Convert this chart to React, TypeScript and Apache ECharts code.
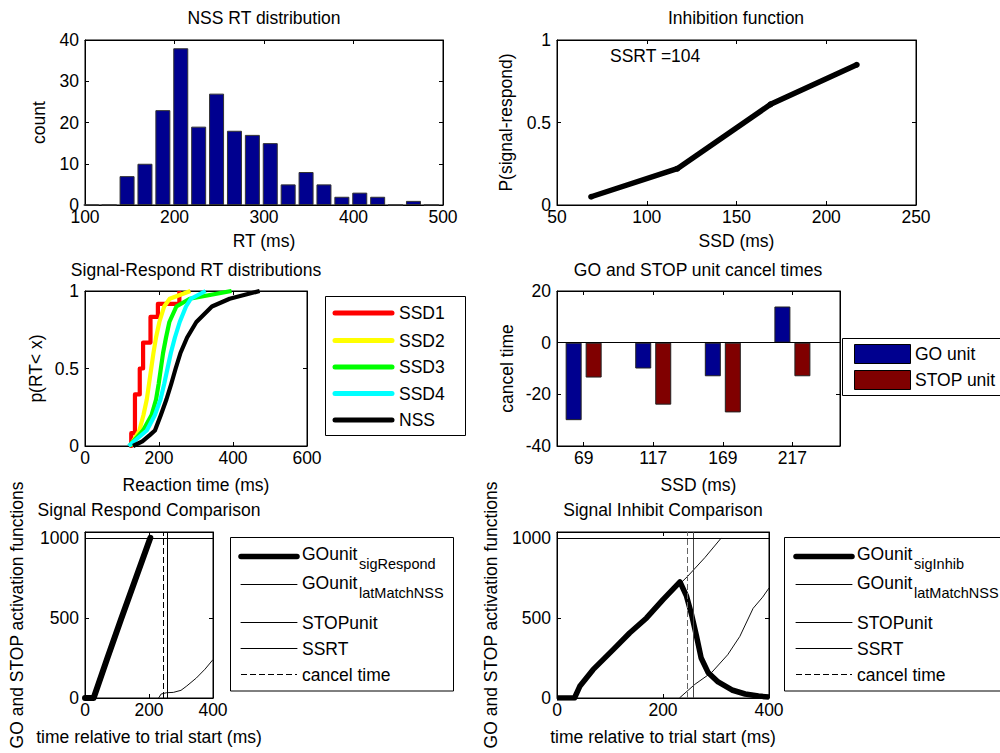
import React, { useEffect, useRef } from 'react';
import * as echarts from 'echarts';

const FONT = '"Liberation Sans", Arial, Helvetica, sans-serif';
const FS = 17.5;
const SUB_FS = 14.5;

// ---------- Panel 1: NSS RT distribution ----------
const rtBinCenters = [107, 127, 147, 167, 187, 207, 227, 247, 267, 287, 307, 327, 347, 367, 387, 407, 427, 447, 467, 487];
const rtCounts = [0, 0, 7, 10, 23, 38, 19, 27, 18, 17, 15, 5, 8, 5, 2, 3, 2, 0, 1, 0];

// ---------- Panel 2: Inhibition function ----------
const ssdValues = [69, 117, 169, 217];
const pSignalRespond = [0.05, 0.22, 0.61, 0.85];
const ssrtText = 'SSRT =104';

// ---------- Panel 3: Signal-Respond RT distributions (RT ms, cumulative p) ----------
const ssd1Cdf = [[120, 0], [125, 0.083], [135, 0.333], [148, 0.5], [157, 0.667], [177, 0.833], [197, 0.917], [255, 1]];
const ssd2Cdf = [[122, 0], [147, 0.1], [158, 0.2], [167, 0.3], [173, 0.4], [179, 0.5], [185, 0.6], [192, 0.7], [201, 0.8], [214, 0.9], [229, 0.95], [285, 1]];
const ssd3Cdf = [[120, 0], [157, 0.1], [180, 0.2], [192, 0.3], [199, 0.4], [205, 0.5], [211, 0.6], [219, 0.7], [228, 0.8], [247, 0.9], [283, 0.95], [396, 1]];
const ssd4Cdf = [[118, 0], [167, 0.1], [189, 0.2], [204, 0.3], [214, 0.4], [223, 0.5], [232, 0.6], [243, 0.7], [256, 0.8], [273, 0.9], [286, 0.95], [326, 1]];
const nssCdf = [[130, 0], [155, 0.03], [175, 0.07], [189, 0.1], [205, 0.2], [220, 0.3], [233, 0.4], [245, 0.5], [258, 0.6], [276, 0.7], [301, 0.8], [343, 0.9], [391, 0.95], [472, 1]];
const cdfNames = ['SSD1', 'SSD2', 'SSD3', 'SSD4', 'NSS'];
const cdfColors = ['#ff0000', '#ffff00', '#00ff00', '#00ffff', '#000000'];

// ---------- Panel 4: GO and STOP unit cancel times ----------
const ssdLabels = ['69', '117', '169', '217'];
const goCancel = [-30, -10, -13, 14];
const stopCancel = [-13.5, -24, -27, -13];

// ---------- Panel 5: Signal Respond Comparison ----------
const respGoSig = [[0, 0], [27, 0], [70, 250], [114, 500], [159, 750], [204, 1000]];
const respStop = [[230, 0], [238, 25], [255, 33], [276, 35], [300, 48], [318, 75], [348, 125], [375, 180], [400, 240]];

// ---------- Panel 6: Signal Inhibit Comparison ----------
const inhGoSig = [[0, 0], [33, 0], [43, 73], [68, 177], [106, 302], [137, 406], [169, 500], [200, 614], [232, 725], [244, 640], [254, 520], [263, 390], [272, 250], [285, 160], [304, 100], [330, 50], [355, 25], [380, 12], [400, 6]];
const inhGoLatMatch = [[33, 0], [43, 70], [68, 175], [106, 300], [137, 400], [169, 495], [200, 600], [225, 690], [247, 762], [279, 877], [310, 1000]];
const inhStop = [[231, 0], [260, 85], [292, 160], [322, 270], [345, 385], [370, 560], [388, 630], [400, 687]];

const cancelTime = 246;
const ssrtTime = 258;
const threshold = 1000;

const grids = [
  { left: 85, top: 40, width: 358, height: 165 },
  { left: 557, top: 40, width: 359, height: 165 },
  { left: 85, top: 291, width: 222, height: 155 },
  { left: 557, top: 291, width: 283, height: 155 },
  { left: 85, top: 532, width: 128, height: 166 },
  { left: 557, top: 532, width: 212, height: 166 },
];

const titles = [
  { text: 'NSS RT distribution', cx: 264, top: 9 },
  { text: 'Inhibition function', cx: 736, top: 9 },
  { text: 'Signal-Respond RT distributions', cx: 196, top: 261 },
  { text: 'GO and STOP unit cancel times', cx: 698, top: 261 },
  { text: 'Signal Respond Comparison', cx: 149, top: 501 },
  { text: 'Signal Inhibit Comparison', cx: 663, top: 501 },
];

type AxSpec = { min: number; max: number; interval?: number; custom?: number[]; fmt?: (v: number) => string; name: string; gap: number };

const xSpecs: AxSpec[] = [
  { min: 100, max: 500, interval: 100, name: 'RT (ms)', gap: 27 },
  { min: 50, max: 250, interval: 50, name: 'SSD (ms)', gap: 27 },
  { min: 0, max: 600, interval: 200, name: 'Reaction time (ms)', gap: 30 },
  { min: 0.617, max: 4.684, custom: [1, 2, 3, 4], fmt: (v) => ssdLabels[Math.round(v) - 1], name: 'SSD (ms)', gap: 30 },
  { min: 0, max: 400, interval: 200, name: 'time relative to trial start (ms)', gap: 30 },
  { min: 0, max: 400, interval: 200, name: 'time relative to trial start (ms)', gap: 30 },
];
const ySpecs: AxSpec[] = [
  { min: 0, max: 40, interval: 10, name: 'count', gap: 37 },
  { min: 0, max: 1, interval: 0.5, name: 'P(signal-respond)', gap: 42 },
  { min: 0, max: 1, interval: 0.5, name: 'p(RT< x)', gap: 40 },
  { min: -40, max: 20, interval: 20, name: 'cancel time', gap: 41 },
  { min: 0, max: 1037, custom: [0, 500, 1000], name: 'GO and STOP activation functions', gap: 59 },
  { min: 0, max: 1037, custom: [0, 500, 1000], name: 'GO and STOP activation functions', gap: 57.5 },
];

const txtStyle = { color: '#000', fontFamily: FONT, fontSize: FS };

function makeAxes(dim: 'x' | 'y', specs: AxSpec[]) {
  const out: any[] = [];
  specs.forEach((s, g) => {
    const tick: any = { show: true, inside: true, length: 4, lineStyle: { color: '#000', width: 1 } };
    if (s.custom) tick.customValues = s.custom;
    const base: any = {
      type: 'value',
      gridIndex: g,
      min: s.min,
      max: s.max,
      splitLine: { show: false },
      axisLine: { show: true, onZero: false, lineStyle: { color: '#000', width: 1 } },
      axisTick: tick,
    };
    if (s.interval !== undefined) base.interval = s.interval;
    const label: any = {
      ...txtStyle,
      lineHeight: 12,
      margin: dim === 'x' ? 6 : 6,
      formatter: s.fmt ? s.fmt : (v: number) => String(v),
    };
    if (s.custom) label.customValues = s.custom;
    out.push({
      ...base,
      position: dim === 'x' ? 'bottom' : 'left',
      name: s.name,
      nameLocation: 'middle',
      nameGap: s.gap,
      nameTextStyle: txtStyle,
      axisLabel: label,
    });
    out.push({
      ...base,
      position: dim === 'x' ? 'top' : 'right',
      axisLabel: { show: false },
    });
  });
  return out;
}

const pairs = (xs: number[], ys: number[]) => xs.map((x, i) => [x, ys[i]]);
const idx = (g: number) => ({ xAxisIndex: 2 * g, yAxisIndex: 2 * g });

const gLine = (x1: number, y1: number, x2: number, y2: number, stroke: string, lineWidth: number, dash?: number[]) => ({
  type: 'line',
  silent: true,
  shape: { x1, y1, x2, y2 },
  style: { stroke, lineWidth, lineCap: dash ? 'butt' : 'round', lineDash: dash },
});
const gText = (x: number, y: number, t: string, size = FS) => ({
  type: 'text',
  silent: true,
  x,
  y,
  style: { text: t, fill: '#000', fontSize: size, fontFamily: FONT, align: 'left', verticalAlign: 'middle' },
});
const gBox = (x: number, y: number, w: number, h: number, fill = '#fff') => ({
  type: 'rect',
  silent: true,
  shape: { x, y, width: w, height: h },
  style: { fill, stroke: '#000', lineWidth: 1 },
});

function buildOption() {
  const thin = (color = '#111') => ({ color, width: 1 });
  const vlines = (dashColor: string, solidColor: string) => ({
    silent: true,
    symbol: ['none', 'none'],
    label: { show: false },
    data: [
      { xAxis: cancelTime, lineStyle: { type: [6, 3], color: dashColor, width: 1 } },
      { xAxis: ssrtTime, lineStyle: { type: 'solid', color: solidColor, width: 1 } },
      { yAxis: threshold, lineStyle: { type: 'solid', color: '#000', width: 1 } },
    ],
  });

  const series: any[] = [
    {
      name: 'NSS RT count',
      type: 'bar',
      ...idx(0),
      barWidth: 15,
      data: pairs(rtBinCenters, rtCounts),
      itemStyle: { color: '#00008f', borderColor: '#333', borderWidth: 1 },
    },
    {
      name: 'P(signal-respond)',
      type: 'line',
      ...idx(1),
      data: pairs(ssdValues, pSignalRespond),
      symbol: 'circle',
      symbolSize: 6,
      itemStyle: { color: '#000' },
      lineStyle: { color: '#000', width: 5.5, join: 'round' },
    },
  ];
  const cdfs = [ssd1Cdf, ssd2Cdf, ssd3Cdf, ssd4Cdf, nssCdf];
  cdfs.forEach((d, i) => {
    series.push({
      name: cdfNames[i],
      type: 'line',
      ...idx(2),
      data: d,
      step: i === 0 ? 'end' : false,
      showSymbol: false,
      symbol: 'none',
      lineStyle: { color: cdfColors[i], width: 4.2, join: 'round' },
    });
  });
  series.push(
    {
      name: 'GO unit',
      type: 'bar',
      ...idx(3),
      barWidth: 16,
      barGap: '25%',
      data: goCancel.map((v, i) => [i + 1, v]),
      itemStyle: { color: '#00008f', borderColor: '#222', borderWidth: 1 },
      markLine: {
        silent: true,
        symbol: ['none', 'none'],
        label: { show: false },
        data: [{ yAxis: 0, lineStyle: { type: 'solid', color: '#000', width: 1 } }],
      },
    },
    {
      name: 'STOP unit',
      type: 'bar',
      ...idx(3),
      barWidth: 16,
      barGap: '25%',
      data: stopCancel.map((v, i) => [i + 1, v]),
      itemStyle: { color: '#800000', borderColor: '#222', borderWidth: 1 },
    }
  );
  series.push(
    {
      name: 'STOPunit',
      type: 'line',
      ...idx(4),
      data: respStop,
      symbol: 'none',
      lineStyle: thin(),
      markLine: vlines('#000', '#000'),
    },
    {
      name: 'GOunit sigRespond',
      type: 'line',
      ...idx(4),
      data: respGoSig,
      symbol: 'none',
      lineStyle: { color: '#000', width: 6, join: 'round', cap: 'round' },
    }
  );
  series.push(
    {
      name: 'STOPunit',
      type: 'line',
      ...idx(5),
      data: inhStop,
      symbol: 'none',
      lineStyle: thin(),
      markLine: vlines('#666', '#444'),
    },
    {
      name: 'GOunit latMatchNSS',
      type: 'line',
      ...idx(5),
      data: inhGoLatMatch,
      symbol: 'none',
      lineStyle: thin(),
    },
    {
      name: 'GOunit sigInhib',
      type: 'line',
      ...idx(5),
      data: inhGoSig,
      symbol: 'none',
      lineStyle: { color: '#000', width: 5.5, join: 'round' },
    }
  );

  // legends drawn as graphics
  const graphic: any[] = [];
  graphic.push(gText(610, 56, ssrtText));

  // panel 3 legend
  graphic.push(gBox(325.5, 296.5, 140, 139));
  const l3y = [313, 340.5, 367, 393.5, 420];
  cdfNames.forEach((n, i) => {
    graphic.push(gLine(335, l3y[i], 392, l3y[i], cdfColors[i], 5));
    graphic.push(gText(399, l3y[i], n));
  });

  // panel 4 legend
  graphic.push(gBox(842.5, 338.5, 220, 57));
  graphic.push(gBox(854.5, 344.5, 56, 19, '#00008f'));
  graphic.push(gBox(854.5, 370.5, 56, 19, '#800000'));
  graphic.push(gText(915, 354, 'GO unit'));
  graphic.push(gText(915, 380, 'STOP unit'));

  // panels 5 & 6 legends
  const legendComp = (bx: number, lx1: number, lx2: number, tx: number, subName: string, w: number) => {
    graphic.push(gBox(bx, 537.5, w, 153.5));
    const ys = [556.5, 584.5, 622.5, 648.5, 674.5];
    graphic.push(gLine(lx1, ys[0], lx2, ys[0], '#000', 5.5));
    graphic.push(gLine(lx1, ys[1], lx2, ys[1], '#000', 1));
    graphic.push(gLine(lx1, ys[2], lx2, ys[2], '#000', 1));
    graphic.push(gLine(lx1, ys[3], lx2, ys[3], '#000', 1));
    graphic.push(gLine(lx1, ys[4], lx2, ys[4], '#000', 1, [6, 3]));
    graphic.push(gText(tx, ys[0] - 3, 'GOunit'));
    graphic.push(gText(tx + 57, ys[0] + 7, subName, SUB_FS));
    graphic.push(gText(tx, ys[1] - 2, 'GOunit'));
    graphic.push(gText(tx + 57, ys[1] + 8, 'latMatchNSS', SUB_FS));
    graphic.push(gText(tx, ys[2], 'STOPunit'));
    graphic.push(gText(tx, ys[3], 'SSRT'));
    graphic.push(gText(tx, ys[4], 'cancel time'));
  };
  legendComp(230.5, 241, 297, 302, 'sigRespond', 223);
  legendComp(784.5, 796, 852, 857, 'sigInhib', 260);

  return {
    animation: false,
    backgroundColor: '#fff',
    textStyle: { fontFamily: FONT },
    title: titles.map((t) => ({
      text: t.text,
      left: t.cx,
      top: t.top,
      textAlign: 'center',
      padding: 0,
      textStyle: { color: '#000', fontFamily: FONT, fontSize: FS, fontWeight: 'normal' },
    })),
    grid: grids.map((g) => ({
      ...g,
      show: true,
      borderColor: '#000',
      borderWidth: 1,
      backgroundColor: '#fff',
      containLabel: false,
    })),
    xAxis: makeAxes('x', xSpecs),
    yAxis: makeAxes('y', ySpecs),
    series,
    graphic,
  };
}

export default function App() {
  const ref = useRef<HTMLDivElement>(null);
  useEffect(() => {
    if (!ref.current) return;
    const chart = echarts.init(ref.current, null, { renderer: 'svg', width: 1000, height: 753 });
    chart.setOption(buildOption() as any);
    return () => chart.dispose();
  }, []);
  return (
    <div
      ref={ref}
      style={{ position: 'absolute', left: 0, top: 0, width: 1000, height: 753, background: '#fff' }}
    />
  );
}
